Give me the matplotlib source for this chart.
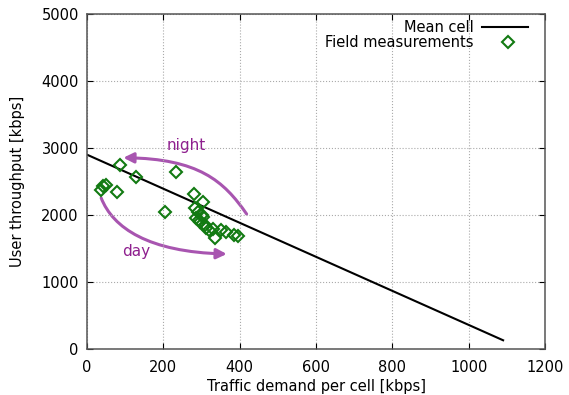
import numpy as np
import matplotlib
matplotlib.use("Agg")
from matplotlib import pyplot as plt
from matplotlib.patches import FancyArrowPatch
from matplotlib.path import Path

# mean cell line (end points)
mean_x = [0, 1090]
mean_y = [2900, 130]

# field measurements
meas_x = [42, 50, 37, 79, 87, 129, 205, 234, 279, 303, 284, 290, 285, 292,
          295, 300, 305, 310, 312, 320, 331, 335, 352, 365, 385, 395]
meas_y = [2440, 2448, 2370, 2343, 2746, 2567, 2040, 2640, 2313, 2194, 2104, 2050,
          1960, 1920, 1900, 2000, 1970, 1850, 1800, 1780, 1790, 1660, 1770, 1750,
          1700, 1690]

# annotation arrows (bezier control points, data units)
night_pts = [(418, 2015), (358, 2510), (292, 2840), (95, 2855)]
day_pts = [(37, 2254), (68, 1806), (161, 1448), (366, 1418)]

plt.rcParams['font.family'] = ['DejaVu Sans']
plt.rcParams['font.size'] = 10

fig = plt.figure(figsize=(5.69, 3.95), dpi=100)
ax = fig.add_axes([0.153, 0.1165, 0.805, 0.848])

green = '#127a12'
ax.plot(mean_x, mean_y, color='black', lw=1.5)
ax.plot(meas_x, meas_y, ls='none', marker='D', ms=6, mfc='none', mec=green, mew=1.5)

purple = '#a855b0'
codes = [Path.MOVETO, Path.CURVE4, Path.CURVE4, Path.CURVE4]
for pts in (night_pts, day_pts):
    arr = FancyArrowPatch(path=Path(pts, codes),
                          arrowstyle='-|>,head_length=6,head_width=3',
                          color=purple, lw=2.2)
    ax.add_patch(arr)
ax.text(260, 3030, 'night', color='#8e1f8e', fontsize=11, ha='center', va='center')
ax.text(130, 1460, 'day', color='#8e1f8e', fontsize=11, ha='center', va='center')

ax.set_xlim(0, 1200)
ax.set_ylim(0, 5000)
ax.set_xticks(range(0, 1201, 200))
ax.set_yticks(range(0, 5001, 1000))
ax.grid(True, ls=':', color='#aaaaaa', lw=0.8)
ax.tick_params(direction='in', top=True, right=True, length=4, labelsize=10.5)
ax.tick_params(axis='x', pad=8)
ax.tick_params(axis='y', pad=6)
for s in ax.spines.values():
    s.set_color('#555555')
    s.set_linewidth(1.1)

ax.set_xlabel('Traffic demand per cell [kbps]', fontsize=10.5, labelpad=3)
ax.set_ylabel('User throughput [kbps]', fontsize=10.5, labelpad=12)

# legend, gnuplot style: right-aligned text, sample to the right
tr = ax.transAxes
ax.text(0.844, 0.961, 'Mean cell', transform=tr, ha='right', va='center', fontsize=10.5)
ax.plot([0.862, 0.963], [0.961, 0.961], transform=tr, color='black', lw=1.5)
ax.text(0.844, 0.916, 'Field measurements', transform=tr, ha='right', va='center', fontsize=10.5)
ax.plot([0.918], [0.916], transform=tr, ls='none', marker='D', ms=6, mfc='none',
        mec=green, mew=1.5)

fig.savefig('out.png', dpi=100)
